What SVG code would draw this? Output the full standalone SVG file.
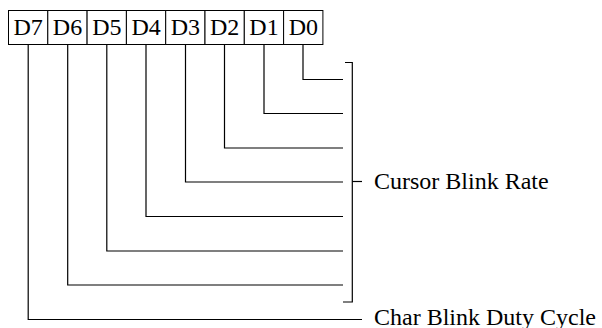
<svg xmlns="http://www.w3.org/2000/svg" width="602" height="328" viewBox="0 0 602 328">
<style>
.cell{fill:#fff;stroke:#000;stroke-width:1}
.lbl{font-family:"Liberation Serif","Times New Roman",serif;font-size:24px;fill:#000}
.mid{text-anchor:middle}
.ln{fill:none;stroke:#000;stroke-width:1.2}
</style>
<rect width="602" height="328" fill="#fff"/>
<g id="register">
<rect class="cell" x="8.5" y="10.5" width="39.3" height="34"/>
<rect class="cell" x="47.8" y="10.5" width="39.3" height="34"/>
<rect class="cell" x="87.1" y="10.5" width="39.3" height="34"/>
<rect class="cell" x="126.4" y="10.5" width="39.3" height="34"/>
<rect class="cell" x="165.7" y="10.5" width="39.3" height="34"/>
<rect class="cell" x="205" y="10.5" width="39.3" height="34"/>
<rect class="cell" x="244.3" y="10.5" width="39.3" height="34"/>
<rect class="cell" x="283.6" y="10.5" width="39.3" height="34"/>
<text class="lbl mid" x="28.2" y="35">D7</text>
<text class="lbl mid" x="67.5" y="35">D6</text>
<text class="lbl mid" x="106.8" y="35">D5</text>
<text class="lbl mid" x="146.1" y="35">D4</text>
<text class="lbl mid" x="185.4" y="35">D3</text>
<text class="lbl mid" x="224.7" y="35">D2</text>
<text class="lbl mid" x="264" y="35">D1</text>
<text class="lbl mid" x="303.3" y="35">D0</text>
</g>
<g id="connectors">
<polyline class="ln" points="303,44.5 303,79.5 343,79.5"/>
<polyline class="ln" points="264,44.5 264,113.5 343,113.5"/>
<polyline class="ln" points="224.5,44.5 224.5,148 343,148"/>
<polyline class="ln" points="185.5,44.5 185.5,182 343,182"/>
<polyline class="ln" points="146,44.5 146,216.5 343,216.5"/>
<polyline class="ln" points="106.8,44.5 106.8,251 343,251"/>
<polyline class="ln" points="67.7,44.5 67.7,285 343,285"/>
<polyline class="ln" points="28.2,44.5 28.2,319.5 362,319.5"/>
<polyline class="ln" points="345,62.5 352.3,62.5 352.3,302 343,302"/>
<line class="ln" x1="352.3" y1="181.5" x2="362" y2="181.5"/>
</g>
<g id="cursor-blink-rate">
<text class="lbl" x="374" y="189">Cursor Blink Rate</text>
</g>
<g id="char-blink-duty-cycle">
<text class="lbl" x="374" y="325">Char Blink Duty Cycle</text>
</g>
</svg>
